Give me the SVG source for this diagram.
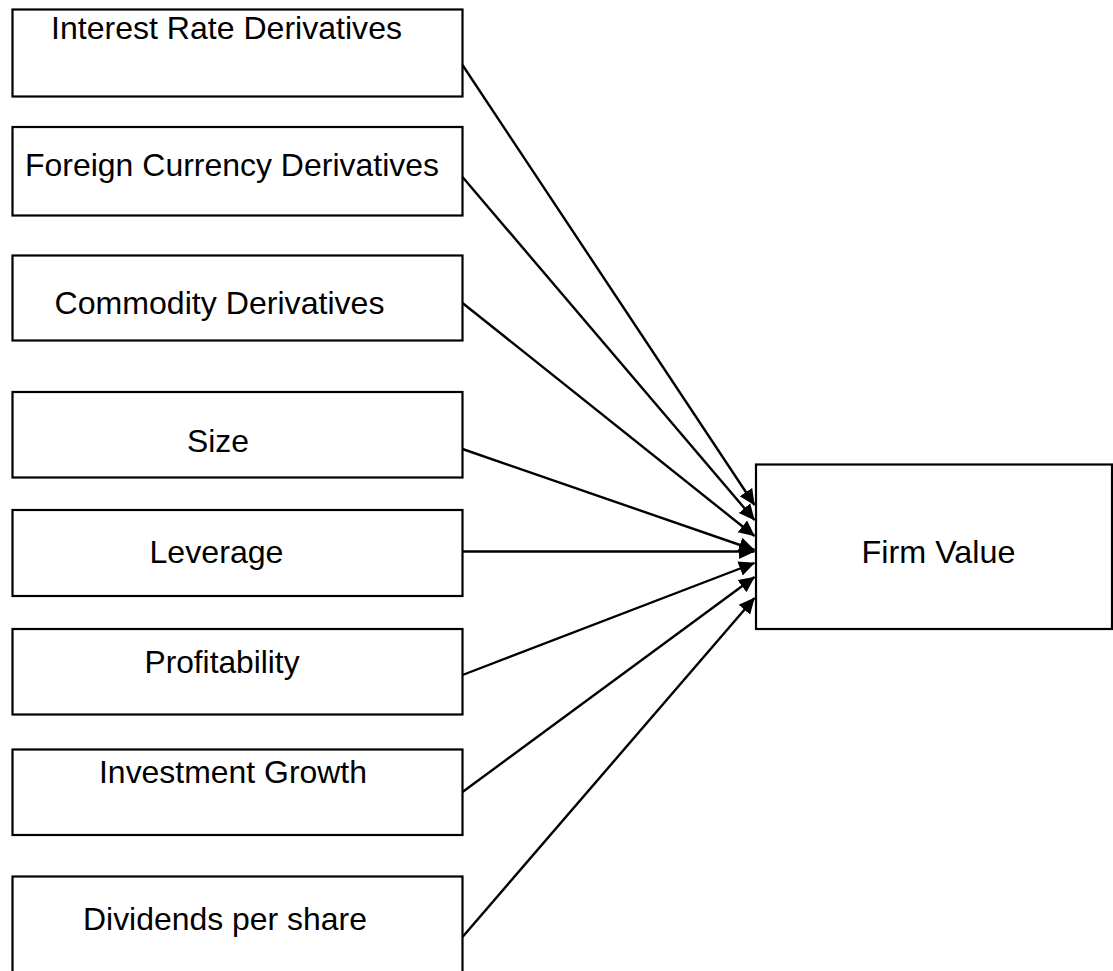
<svg xmlns="http://www.w3.org/2000/svg" width="1113" height="971" viewBox="0 0 1113 971">
  <style>
    .box { fill: #ffffff; stroke: #000000; stroke-width: 2.2; }
    .label { font-family: "Liberation Sans", Arial, sans-serif; font-size: 30.5px; fill: #000000; }
    .edge { stroke: #000000; stroke-width: 2.4; fill: none; marker-end: url(#arrow); }
  </style>
  <defs>
    <marker id="arrow" markerWidth="16" markerHeight="16" refX="15.5" refY="8" orient="auto" markerUnits="userSpaceOnUse">
      <path d="M0,0.5 L16,8 L0,15.5 Z" fill="#000000"/>
    </marker>
  </defs>
  <rect width="1113" height="971" fill="#ffffff"/>

  <g id="interest-rate">
    <rect class="box" x="12.5" y="9.5" width="450" height="87"/>
    <text class="label" x="51" y="39.3" textLength="351" lengthAdjust="spacingAndGlyphs">Interest Rate Derivatives</text>
  </g>
  <g id="foreign-currency">
    <rect class="box" x="12.5" y="127" width="450" height="88.5"/>
    <text class="label" x="25" y="176" textLength="414" lengthAdjust="spacingAndGlyphs">Foreign Currency Derivatives</text>
  </g>
  <g id="commodity">
    <rect class="box" x="12.5" y="255.5" width="450" height="85"/>
    <text class="label" x="54.5" y="314.3" textLength="330" lengthAdjust="spacingAndGlyphs">Commodity Derivatives</text>
  </g>
  <g id="size">
    <rect class="box" x="12.5" y="392" width="450" height="85.5"/>
    <text class="label" x="187" y="451.7" textLength="62" lengthAdjust="spacingAndGlyphs">Size</text>
  </g>
  <g id="leverage">
    <rect class="box" x="12.5" y="510" width="450" height="86"/>
    <text class="label" x="149.5" y="562.7" textLength="134" lengthAdjust="spacingAndGlyphs">Leverage</text>
  </g>
  <g id="profitability">
    <rect class="box" x="12.5" y="629" width="450" height="85.5"/>
    <text class="label" x="144.5" y="673.3" textLength="155" lengthAdjust="spacingAndGlyphs">Profitability</text>
  </g>
  <g id="investment-growth">
    <rect class="box" x="12.5" y="749.5" width="450" height="85.5"/>
    <text class="label" x="99" y="783.3" textLength="268" lengthAdjust="spacingAndGlyphs">Investment Growth</text>
  </g>
  <g id="dividends">
    <rect class="box" x="12.5" y="876.5" width="450" height="120"/>
    <text class="label" x="83" y="930" textLength="284" lengthAdjust="spacingAndGlyphs">Dividends per share</text>
  </g>
  <g id="firm-value">
    <rect class="box" x="756" y="464.5" width="356" height="164.5"/>
    <text class="label" x="861.5" y="562.7" textLength="154" lengthAdjust="spacingAndGlyphs">Firm Value</text>
  </g>

  <g id="connectors">
    <line class="edge" x1="462.5" y1="65" x2="754.5" y2="505"/>
    <line class="edge" x1="462.5" y1="177" x2="754.5" y2="520"/>
    <line class="edge" x1="462.5" y1="303" x2="754.5" y2="536"/>
    <line class="edge" x1="462.5" y1="449" x2="754.5" y2="550"/>
    <line class="edge" x1="462.5" y1="551.5" x2="754.5" y2="551.5"/>
    <line class="edge" x1="462.5" y1="675" x2="754.5" y2="563"/>
    <line class="edge" x1="462.5" y1="792" x2="754.5" y2="577"/>
    <line class="edge" x1="462.5" y1="937" x2="754.5" y2="598"/>
  </g>
</svg>
